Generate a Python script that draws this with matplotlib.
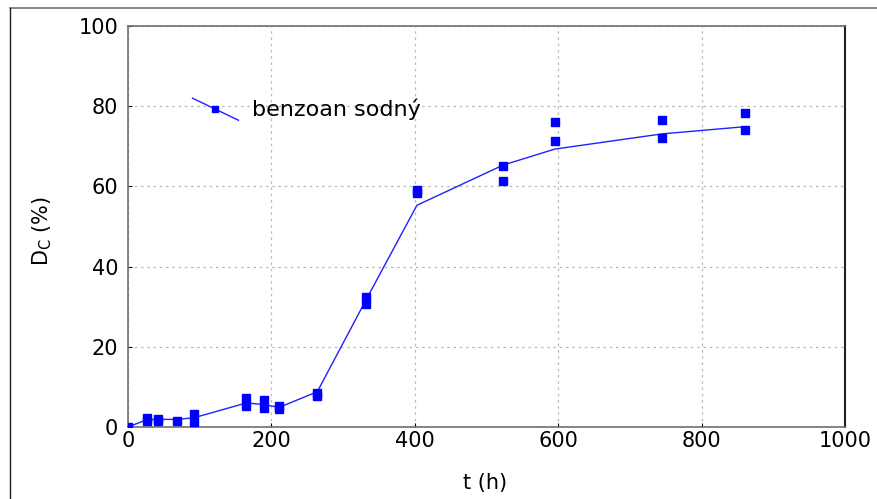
import matplotlib
matplotlib.use('Agg')
import matplotlib.pyplot as plt
from matplotlib.lines import Line2D

# measured points (two replicates at most times)
t_pts = [0, 26, 26, 42, 42, 69, 92, 92, 165, 165, 189, 189, 211, 211, 264, 264,
         332, 332, 403, 403, 523, 523, 595, 595, 745, 745, 861, 861]
dc_pts = [0, 2.2, 1.4, 2.1, 1.5, 1.5, 3.2, 1.3, 7.3, 5.2, 6.7, 4.7, 5.3, 4.6, 8.5, 7.7,
          32.5, 30.7, 59.2, 58.3, 65.1, 61.3, 76.1, 71.3, 76.6, 72.1, 78.2, 74.1]

# mean curve
t_line = [0, 26, 42, 69, 92, 165, 189, 211, 264, 332, 403, 523, 595, 745, 861]
dc_line = [0, 1.8, 1.9, 1.9, 2.3, 6.0, 5.6, 4.9, 8.8, 31.7, 55.3, 65.3, 69.3, 73.1, 74.9]

plt.rcParams['font.family'] = ['DejaVu Sans']
plt.rcParams['font.size'] = 15

fig = plt.figure(figsize=(8.78, 4.99), dpi=100)
ax = fig.add_axes([128 / 878, 1 - 427 / 499, (845 - 128) / 878, (427 - 26) / 499])

ax.plot(t_line, dc_line, color='#2020ff', lw=1.0, zorder=3)
ax.plot(t_pts, dc_pts, ls='none', marker='s', ms=5.5, color='#0000ff', zorder=4)

ax.set_xlim(0, 1000)
ax.set_ylim(0, 100)
ax.set_xticks(range(0, 1001, 200))
ax.set_yticks(range(0, 101, 20))
ax.grid(True, ls=(0, (2, 3)), color='#b8b8b8', lw=0.9)
ax.tick_params(direction='in', length=3, width=0.8, labelsize=15)
ax.tick_params(axis='x', pad=3)
ax.tick_params(axis='y', pad=7)

for side in ['left', 'bottom', 'top']:
    ax.spines[side].set_color('#707070')
    ax.spines[side].set_linewidth(1.2)
ax.spines['right'].set_color('#202020')
ax.spines['right'].set_linewidth(1.5)

ax.set_xlabel('t (h)', fontsize=15)
ax.set_ylabel('D$_\\mathregular{C}$ (%)', fontsize=15)
ax.xaxis.set_label_coords(0.498, -0.115)
ax.yaxis.set_label_coords(-0.103, 0.49)

# Statistica-style legend: slanted line with marker
ax.plot([0.09, 0.154], [0.82, 0.765], transform=ax.transAxes, color='#2020ff', lw=1.0)
ax.plot([0.122], [0.7925], transform=ax.transAxes, marker='s', ms=5, color='#0000ff')
ax.text(0.173, 0.7925, 'benzoan sodný', transform=ax.transAxes, va='center', fontsize=16)

# outer frame lines (top and left)
fig.add_artist(Line2D([10 / 878, 1], [1 - 8 / 499, 1 - 8 / 499], color='#707070', lw=1.2))
fig.add_artist(Line2D([10 / 878, 10 / 878], [0, 1 - 8 / 499], color='#202020', lw=1.0))

fig.savefig('out.png', dpi=100)
